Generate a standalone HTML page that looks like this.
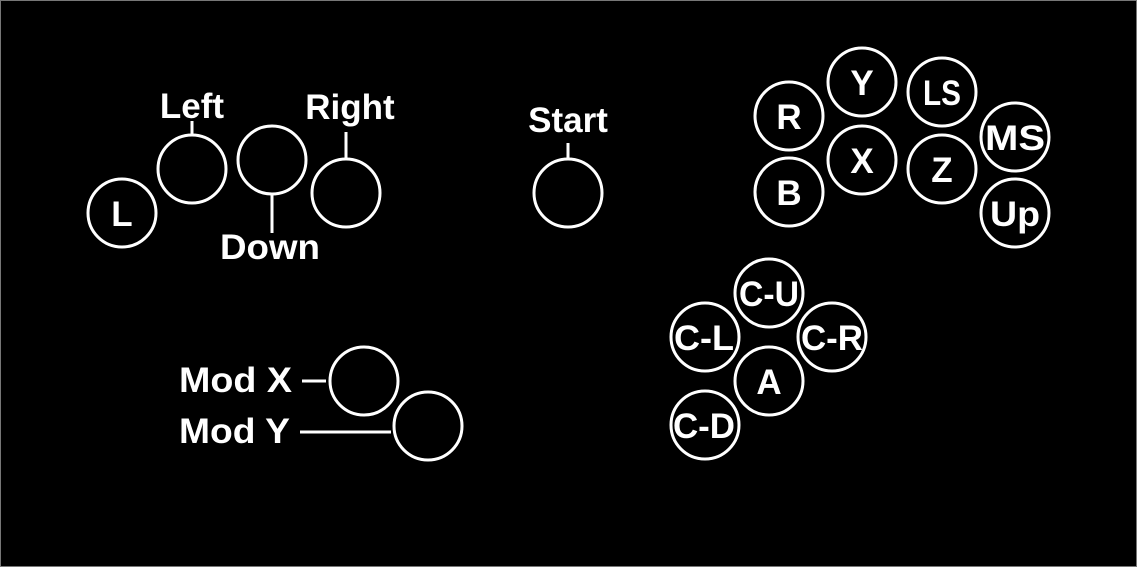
<!DOCTYPE html>
<html><head><meta charset="utf-8"><style>
html,body{margin:0;padding:0;background:#000;}
svg{display:block;}
text{font-family:"Liberation Sans",sans-serif;font-weight:bold;fill:#fff;}
</style></head><body>
<svg width="1137" height="567" viewBox="0 0 1137 567">
<rect x="0.5" y="0.5" width="1136" height="566" fill="#000" stroke="#777" stroke-width="1"/>
<g fill="none" stroke="#fff" stroke-width="3">
<circle cx="122" cy="213" r="34"/>
<circle cx="192" cy="169" r="34"/>
<circle cx="272" cy="160" r="34"/>
<circle cx="346" cy="193" r="34"/>
<circle cx="568" cy="193" r="34"/>
<circle cx="789" cy="116" r="34"/>
<circle cx="862" cy="82" r="34"/>
<circle cx="942" cy="92" r="34"/>
<circle cx="1015" cy="137" r="34"/>
<circle cx="862" cy="160" r="34"/>
<circle cx="942" cy="169" r="34"/>
<circle cx="789" cy="192" r="34"/>
<circle cx="1015" cy="213" r="34"/>
<circle cx="769" cy="293" r="34"/>
<circle cx="705" cy="337" r="34"/>
<circle cx="832" cy="337" r="34"/>
<circle cx="769" cy="381" r="34"/>
<circle cx="705" cy="425" r="34"/>
<circle cx="364" cy="381" r="34"/>
<circle cx="428" cy="426" r="34"/>
<line x1="192" y1="121" x2="192" y2="135"/>
<line x1="346" y1="132" x2="346" y2="159"/>
<line x1="272" y1="194" x2="272" y2="233"/>
<line x1="568" y1="143" x2="568" y2="159"/>
<line x1="302" y1="381" x2="326" y2="381"/>
<line x1="300" y1="432" x2="391" y2="432"/>
</g>
<g font-size="35" text-anchor="middle">
<text x="192" y="118">Left</text>
<text x="350" y="119">Right</text>
<text x="270" y="259" textLength="100" lengthAdjust="spacingAndGlyphs">Down</text>
<text x="568" y="132">Start</text>
<text x="122" y="226">L</text>
<text x="789" y="129">R</text>
<text x="862" y="95">Y</text>
<text x="942" y="105" textLength="38" lengthAdjust="spacingAndGlyphs">LS</text>
<text x="1015" y="150" textLength="60" lengthAdjust="spacingAndGlyphs">MS</text>
<text x="862" y="173">X</text>
<text x="942" y="182">Z</text>
<text x="789" y="205">B</text>
<text x="1015" y="226" textLength="50" lengthAdjust="spacingAndGlyphs">Up</text>
<text x="769" y="306" textLength="60" lengthAdjust="spacingAndGlyphs">C-U</text>
<text x="704" y="350" textLength="60" lengthAdjust="spacingAndGlyphs">C-L</text>
<text x="832" y="350" textLength="62" lengthAdjust="spacingAndGlyphs">C-R</text>
<text x="769" y="394">A</text>
<text x="704" y="438" textLength="62" lengthAdjust="spacingAndGlyphs">C-D</text>
</g>
<g font-size="35" text-anchor="end">
<text x="292" y="392" textLength="113" lengthAdjust="spacingAndGlyphs">Mod X</text>
<text x="290" y="443" textLength="111" lengthAdjust="spacingAndGlyphs">Mod Y</text>
</g>
</svg>
</body></html>
